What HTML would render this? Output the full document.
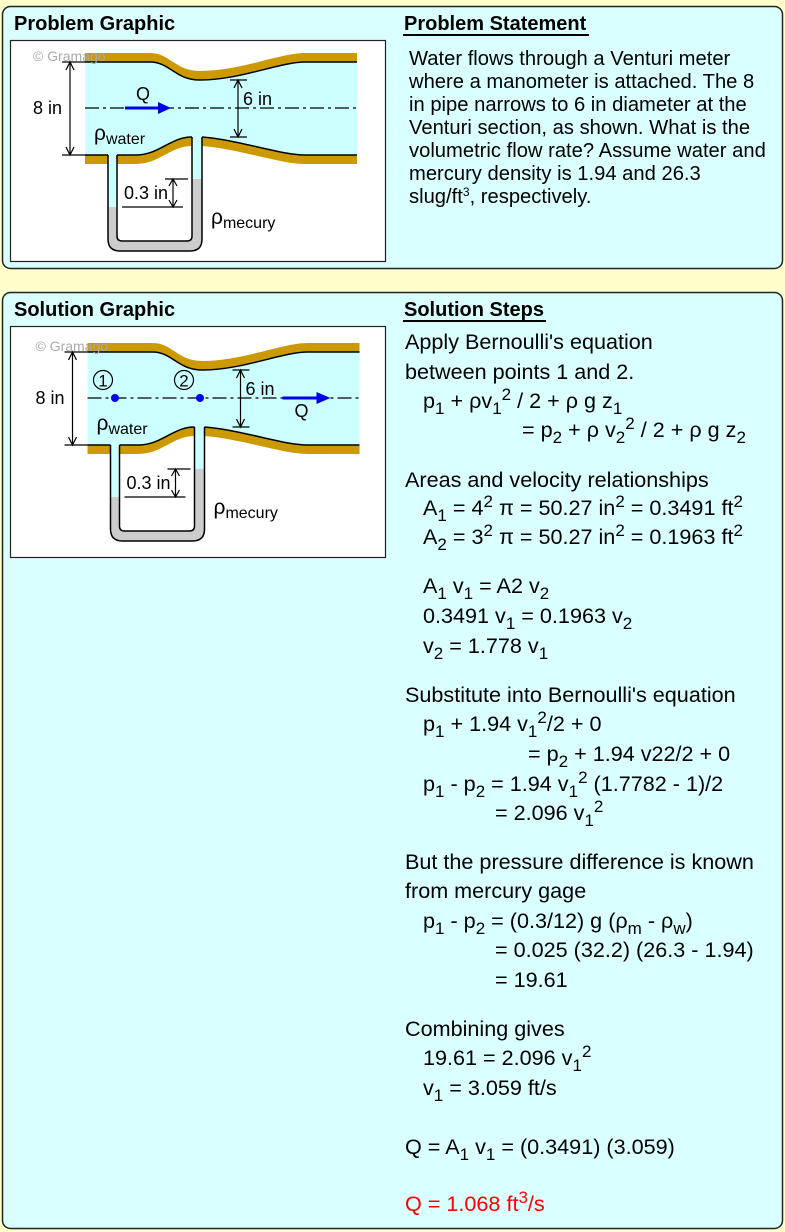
<!DOCTYPE html>
<html><head><meta charset="utf-8"><style>
body{margin:0;width:785px;height:1232px;background:#ffffcc;position:relative;overflow:hidden;font-family:"Liberation Sans",Arial,sans-serif;}
svg{position:absolute;left:0;top:0}
.l{position:absolute;font-size:21.6px;line-height:24px;white-space:nowrap;color:#000}
.l sub{font-size:17px;vertical-align:-6px;line-height:0}
.l sup{font-size:17px;vertical-align:8px;line-height:0}
.ps{position:absolute;left:409px;top:48px;font-size:20.2px;line-height:23px;white-space:nowrap}
.ps sup{font-size:12px;vertical-align:7px;line-height:0}
.h{position:absolute;font-size:20px;font-weight:bold;line-height:22px;white-space:nowrap}
</style></head><body>
<svg width="785" height="1232" viewBox="0 0 785 1232">
<defs>
<g id="dia">
<path d="M85,62 L150,62 C170,62 175,80 200,80 C240,80 280,62 305,62 L357,62 L357,155 L305,155 C280,155 240,140 202,137 L192,137 C170,137 160,155 135,155 L85,155 Z" fill="#ccffff"/>
<path d="M85,53 L150,53 C170,53 175,71 200,71 C240,71 280,53 305,53 L357,53 L357,62 L305,62 C280,62 240,80 200,80 C175,80 170,62 150,62 L85,62 Z" fill="#cc9900"/>
<path d="M85,62 L150,62 C170,62 175,80 200,80 C240,80 280,62 305,62 L357,62" fill="none" stroke="#000" stroke-width="1.5"/>
<rect x="85" y="155" width="23" height="9" fill="#cc9900"/>
<path d="M117,155 L135,155 C160,155 170,137 192,137 L192,146 C170,146 160,164 135,164 L117,164 Z" fill="#cc9900"/>
<path d="M202,137 C240,140 280,155 305,155 L357,155 L357,164 L305,164 C280,164 240,149 202,146 Z" fill="#cc9900"/>
<path d="M85,155 L108,155 M117,155 L135,155 C160,155 170,137 192,137 M202,137 C240,140 280,155 305,155 L357,155" fill="none" stroke="#000" stroke-width="1.5"/>
<path fill-rule="evenodd" fill="#cccccc" d="M108,155 L108,239 Q108,251 120,251 L190,251 Q202,251 202,239 L202,137 L192,137 L192,236 Q192,241 187,241 L122,241 Q117,241 117,236 L117,155 Z"/>
<rect x="108" y="155" width="9" height="52" fill="#ccffff"/>
<rect x="192" y="137" width="10" height="42" fill="#ccffff"/>
<path d="M108,155 L108,239 Q108,251 120,251 L190,251 Q202,251 202,239 L202,137 M117,155 L117,236 Q117,241 122,241 L187,241 Q192,241 192,236 L192,137" fill="none" stroke="#000" stroke-width="1.5"/>
<line x1="85" y1="108" x2="357" y2="108" stroke="#000" stroke-width="1.2" stroke-dasharray="14,4,3,4"/>
<line x1="62" y1="62" x2="85" y2="62" stroke="#000" stroke-width="1.2"/>
<line x1="62" y1="155" x2="85" y2="155" stroke="#000" stroke-width="1.2"/>
<line x1="70" y1="63" x2="70" y2="154" stroke="#000" stroke-width="1.2"/>
<path d="M66,70 L70,62 L74,70 M66,147 L70,155 L74,147" fill="none" stroke="#000" stroke-width="1.2"/>
<text x="33" y="114" font-size="18">8 in</text>
<line x1="230" y1="80" x2="247" y2="80" stroke="#000" stroke-width="1.2"/>
<line x1="230" y1="137" x2="247" y2="137" stroke="#000" stroke-width="1.2"/>
<line x1="238" y1="81" x2="238" y2="136" stroke="#000" stroke-width="1.2"/>
<path d="M234,88 L238,80 L242,88 M234,129 L238,137 L242,129" fill="none" stroke="#000" stroke-width="1.2"/>
<text x="243" y="105" font-size="18">6 in</text>
<line x1="165" y1="179" x2="188" y2="179" stroke="#000" stroke-width="1.2"/>
<line x1="122" y1="207" x2="183" y2="207" stroke="#000" stroke-width="1.2"/>
<line x1="173" y1="180" x2="173" y2="206" stroke="#000" stroke-width="1.2"/>
<path d="M169,186 L173,179 L177,186 M169,200 L173,207 L177,200" fill="none" stroke="#000" stroke-width="1.2"/>
<text x="124" y="199" font-size="18">0.3 in</text>
<text x="94" y="140" font-size="21">ρ<tspan font-size="16" dy="4">water</tspan></text>
<text x="211" y="224" font-size="21">ρ<tspan font-size="16" dy="4">mecury</tspan></text>
<text x="33" y="61" font-size="14" fill="#aaaaaa">© Gramago</text>
</g>
</defs>
<rect x="2.5" y="6.5" width="780" height="262" rx="8" fill="#d9ffff" stroke="#222" stroke-width="1.5"/>
<rect x="2.5" y="292.5" width="780" height="936" rx="8" fill="#d9ffff" stroke="#222" stroke-width="1.5"/>
<rect x="10.5" y="40.5" width="375" height="221" fill="#fff" stroke="#222" stroke-width="1.2"/>
<rect x="10.5" y="326.5" width="375" height="231" fill="#fff" stroke="#222" stroke-width="1.2"/>
<use href="#dia"/>
<line x1="125" y1="108" x2="160" y2="108" stroke="#0000ee" stroke-width="3"/>
<path d="M158,102 L171,108 L158,114 Z" fill="#0000ee"/>
<text x="136" y="100" font-size="18">Q</text>
<g transform="translate(2.5,290)">
<use href="#dia"/>
<line x1="280" y1="108" x2="316" y2="108" stroke="#0000ee" stroke-width="3"/>
<path d="M314,102 L328,108 L314,114 Z" fill="#0000ee"/>
<text x="292" y="127" font-size="18">Q</text>
<circle cx="100.5" cy="90" r="9.5" fill="none" stroke="#000" stroke-width="1.2"/>
<text x="100.5" y="96.5" font-size="17" text-anchor="middle">1</text>
<circle cx="181.5" cy="90" r="9.5" fill="none" stroke="#000" stroke-width="1.2"/>
<text x="181.5" y="96.5" font-size="17" text-anchor="middle">2</text>
<circle cx="112.5" cy="108" r="4" fill="#0000ee"/>
<circle cx="197.5" cy="108" r="4" fill="#0000ee"/>
</g>
<line x1="403" y1="35" x2="589" y2="35" stroke="#000" stroke-width="2"/>
<line x1="403" y1="321" x2="546" y2="321" stroke="#000" stroke-width="2"/>
</svg>
<div class="h" style="left:14px;top:13px">Problem Graphic</div>
<div class="h" style="left:404px;top:13px">Problem Statement</div>
<div class="h" style="left:14px;top:299px">Solution Graphic</div>
<div class="h" style="left:404px;top:299px">Solution Steps</div>
<div class="ps">Water flows through a Venturi meter<br>where a manometer is attached. The 8<br>in pipe narrows to 6 in diameter at the<br>Venturi section, as shown. What is the<br>volumetric flow rate? Assume water and<br>mercury density is 1.94 and 26.3<br>slug/ft<sup>3</sup>, respectively.</div>

<div class="l" style="left:405px;top:330px">Apply Bernoulli's equation</div>
<div class="l" style="left:405px;top:360px">between points 1 and 2.</div>
<div class="l" style="left:423px;top:389px">p<sub>1</sub> + ρv<sub>1</sub><sup>2</sup> / 2 + ρ g z<sub>1</sub></div>
<div class="l" style="left:522px;top:418px">= p<sub>2</sub> + ρ v<sub>2</sub><sup>2</sup> / 2 + ρ g z<sub>2</sub></div>
<div class="l" style="left:405px;top:468px">Areas and velocity relationships</div>
<div class="l" style="left:423px;top:496px">A<sub>1</sub> = 4<sup>2</sup> π = 50.27 in<sup>2</sup> = 0.3491 ft<sup>2</sup></div>
<div class="l" style="left:423px;top:525px">A<sub>2</sub> = 3<sup>2</sup> π = 50.27 in<sup>2</sup> = 0.1963 ft<sup>2</sup></div>
<div class="l" style="left:423px;top:574px">A<sub>1</sub> v<sub>1</sub> = A2 v<sub>2</sub></div>
<div class="l" style="left:423px;top:604px">0.3491 v<sub>1</sub> = 0.1963 v<sub>2</sub></div>
<div class="l" style="left:423px;top:634px">v<sub>2</sub> = 1.778 v<sub>1</sub></div>
<div class="l" style="left:405px;top:683px">Substitute into Bernoulli's equation</div>
<div class="l" style="left:423px;top:712px">p<sub>1</sub> + 1.94 v<sub>1</sub><sup>2</sup>/2 + 0</div>
<div class="l" style="left:528px;top:742px">= p<sub>2</sub> + 1.94 v22/2 + 0</div>
<div class="l" style="left:423px;top:772px">p<sub>1</sub> - p<sub>2</sub> = 1.94 v<sub>1</sub><sup>2</sup> (1.7782 - 1)/2</div>
<div class="l" style="left:495px;top:801px">= 2.096 v<sub>1</sub><sup>2</sup></div>
<div class="l" style="left:405px;top:850px">But the pressure difference is known</div>
<div class="l" style="left:405px;top:879px">from mercury gage</div>
<div class="l" style="left:423px;top:909px">p<sub>1</sub> - p<sub>2</sub> = (0.3/12) g (ρ<sub>m</sub> - ρ<sub>w</sub>)</div>
<div class="l" style="left:495px;top:938px">= 0.025 (32.2) (26.3 - 1.94)</div>
<div class="l" style="left:495px;top:968px">= 19.61</div>
<div class="l" style="left:405px;top:1017px">Combining gives</div>
<div class="l" style="left:423px;top:1046px">19.61 = 2.096 v<sub>1</sub><sup>2</sup></div>
<div class="l" style="left:423px;top:1076px">v<sub>1</sub> = 3.059 ft/s</div>
<div class="l" style="left:405px;top:1135px">Q = A<sub>1</sub> v<sub>1</sub> = (0.3491) (3.059)</div>
<div class="l" style="left:405px;top:1192px;color:#ff0000">Q = 1.068 ft<sup>3</sup>/s</div>
</body></html>
